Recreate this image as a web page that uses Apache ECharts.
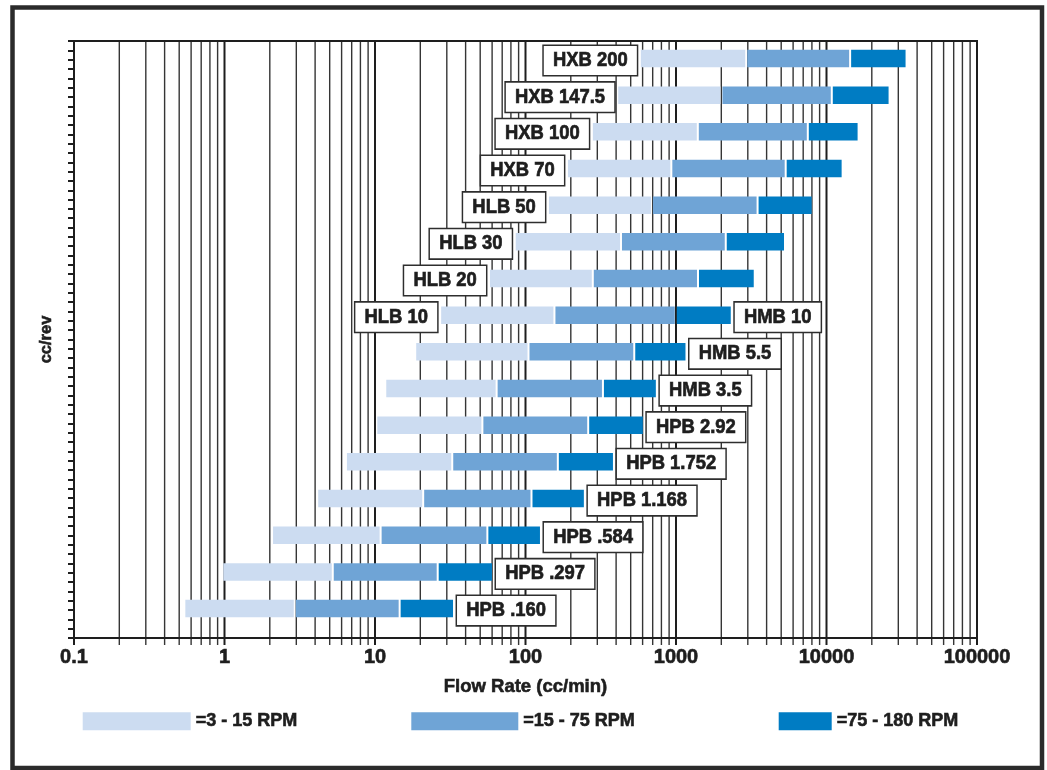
<!DOCTYPE html>
<html>
<head>
<meta charset="utf-8">
<script src="https://cdn.jsdelivr.net/npm/echarts@6/dist/echarts.min.js"></script>
<style>
html,body{margin:0;padding:0;background:#fff;}
#chart{width:1047px;height:770px;}
</style>
</head>
<body>
<div id="chart"></div>
<script>
// ---- data (rows listed top to bottom) ----
const leftLabels  = ['HXB 200','HXB 147.5','HXB 100','HXB 70','HLB 50','HLB 30','HLB 20','HLB 10','','','','','','','',''];
const rightLabels = ['','','','','','','','HMB 10','HMB 5.5','HMB 3.5','HPB 2.92','HPB 1.752','HPB 1.168','HPB .584','HPB .297','HPB .160'];
// flow rate (cc/min) where each speed band starts / ends
const flowStart = [575, 407, 276, 188.5, 141, 84.8, 57.2, 27.1, 18.5, 11.7, 10.2, 6.41, 4.13, 2.07, 0.967, 0.541];
const flow15    = [2928, 2004, 1396, 931, 692, 431, 280, 155.7, 104.7, 64.3, 51.7, 32.6, 20.9, 10.9, 5.24, 2.93];
const flow75    = [14355, 10844, 7513, 5356, 3484, 2141, 1400, 997, 528, 327, 261, 164, 109.6, 55.8, 26.1, 14.58];
const flowEnd   = [34040, 26250, 16340, 12800, 8093, 5300, 3336, 2347, 1174, 746, 611, 387, 248, 126.7, 60.8, 33.5];
const bandNames = ['=3 - 15 RPM', '=15 - 75 RPM', '=75 - 180 RPM'];
const xTickLabels = ['0.1','1','10','100','1000','10000','100000'];
const decades = [0.1, 1, 10, 100, 1000, 10000];
const multipliers = [1,2,3,4,5,6,7,8,9];

const COLORS = ['#CCDCF1', '#6FA4D6', '#007CC3'];
const FONT = "'Liberation Sans','Arial',sans-serif";
const INK = '#1e1e1e';

// grid line positions (axis ticks)
const gridTicks = [];
decades.forEach(d => multipliers.forEach(m => gridTicks.push([Number((d*m).toPrecision(6)), m === 1 ? 1 : 0])));
gridTicks.push([100000, 1]);

const rows = flowStart.map((_, i) => i);
function segData(a, b) { return rows.map(i => [a[i], b[i], i]); }

function barItem(params, api) {
  const y = api.value(2);
  const s = api.coord([api.value(0), y]);
  const e = api.coord([api.value(1), y]);
  const h = (api.coord([1, y + 1])[1] - api.coord([1, y])[1]) * 0.477;
  return {
    type: 'rect',
    shape: { x: s[0] + 1, y: s[1] - h / 2, width: e[0] - s[0] - 2, height: h },
    style: { fill: api.visual('color') }
  };
}

const chart = echarts.init(document.getElementById('chart'), null, { renderer: 'canvas' });

const LABEL_SCALE = 0.92;
function boxText(text, x, y, align) {
  return {
    type: 'text', x: x, y: y, scaleX: LABEL_SCALE, scaleY: 1,
    style: {
      text: text, x: 0, y: 0, align: align, verticalAlign: 'middle',
      fill: INK, font: 'bold 20px ' + FONT,
      stroke: INK, lineWidth: 0.7,
      backgroundColor: '#fff', borderColor: '#2e2e2e', borderWidth: 1.6,
      padding: [4, 10, 4, 10], lineHeight: 21
    }
  };
}
const heavy = { textBorderColor: INK, textBorderWidth: 0.6 };

const option = {
  backgroundColor: '#fff',
  animation: false,
  graphic: [{
    type: 'rect', z: 100, silent: true,
    shape: { x: 12.5, y: 7.5, width: 1029.5, height: 760.5 },
    style: { fill: 'none', stroke: '#2b2b2b', lineWidth: 4.5 }
  }],
  grid: { left: 74, right: 70, top: 41, bottom: 132, show: true, borderColor: INK, borderWidth: 2, backgroundColor: 'transparent', z: 5 },
  legend: bandNames.map((n, k) => ({
    data: [n],
    selectedMode: false,
    left: [82.7, 411.3, 778.7][k],
    top: 712,
    padding: 0,
    icon: 'rect',
    itemWidth: [108, 107, 53][k],
    itemHeight: 18,
    textStyle: Object.assign({ fontFamily: FONT, fontWeight: 'bold', fontSize: 18, color: INK }, heavy)
  })),
  xAxis: {
    type: 'log', logBase: 10, min: 0.1, max: 100000, splitNumber: 6,
    axisLine: { show: true, onZero: false, lineStyle: { color: INK, width: 2 } },
    axisTick: { show: false },
    splitLine: { show: false },
    minorTick: { show: false },
    axisLabel: Object.assign({
      margin: 9, color: INK, fontFamily: FONT, fontWeight: 'bold', fontSize: 20,
      formatter: v => xTickLabels[Math.round(Math.log10(v)) + 1]
    }, heavy),
    name: 'Flow Rate (cc/min)', nameLocation: 'middle', nameGap: 39,
    nameTextStyle: Object.assign({ color: INK, fontFamily: FONT, fontWeight: 'bold', fontSize: 18.5 }, heavy)
  },
  yAxis: [{
    type: 'value', inverse: true, min: -0.477, max: 15.803, show: false
  }, {
    type: 'value', position: 'left', min: 0, max: 64, interval: 1,
    axisLine: { show: true, onZero: false, lineStyle: { color: INK, width: 2 } },
    axisTick: { show: true, inside: false, length: 6, lineStyle: { color: INK, width: 2 } },
    axisLabel: { show: false },
    splitLine: { show: false },
    name: 'cc/rev', nameLocation: 'middle', nameGap: 19, nameRotate: 90,
    nameTextStyle: Object.assign({ color: INK, fontFamily: FONT, fontWeight: 'bold', fontSize: 16.5 }, heavy)
  }],
  series: [
    {
      type: 'custom', name: 'grid', z: 1, silent: true, clip: false,
      coordinateSystem: 'cartesian2d', yAxisIndex: 0,
      data: gridTicks.map(t => [t[0], t[1], 0]),
      encode: { x: 0, y: 2 },
      renderItem: (params, api) => {
        const cs = params.coordSys;
        const x = api.coord([api.value(0), 0])[0];
        const major = api.value(1) === 1;
        return {
          type: 'line',
          shape: { x1: x, y1: cs.y, x2: x, y2: cs.y + cs.height + 7 },
          style: { stroke: major ? '#1e1e1e' : '#353535', lineWidth: major ? 2 : 1.4 }
        };
      }
    },
    { type: 'custom', name: bandNames[0], z: 2, yAxisIndex: 0, data: segData(flowStart, flow15), encode: { x: [0, 1], y: 2 }, itemStyle: { color: COLORS[0] }, renderItem: barItem },
    { type: 'custom', name: bandNames[1], z: 2, yAxisIndex: 0, data: segData(flow15, flow75), encode: { x: [0, 1], y: 2 }, itemStyle: { color: COLORS[1] }, renderItem: barItem },
    { type: 'custom', name: bandNames[2], z: 2, yAxisIndex: 0, data: segData(flow75, flowEnd), encode: { x: [0, 1], y: 2 }, itemStyle: { color: COLORS[2] }, renderItem: barItem },
    {
      type: 'custom', name: 'labels', z: 3, silent: true, clip: false, yAxisIndex: 0,
      data: rows.map(i => [flowStart[i], flowEnd[i], i]),
      encode: { x: [0, 1], y: 2 },
      renderItem: (params, api) => {
        const i = api.value(2);
        const s = api.coord([api.value(0), i]);
        const e = api.coord([api.value(1), i]);
        const children = [];
        if (leftLabels[i]) children.push(boxText(leftLabels[i], s[0] - 3, s[1] + 2, 'right'));
        if (rightLabels[i]) children.push(boxText(rightLabels[i], e[0] + 3, e[1] + 2, 'left'));
        return { type: 'group', children };
      }
    }
  ]
};
chart.setOption(option);
</script>
</body>
</html>
